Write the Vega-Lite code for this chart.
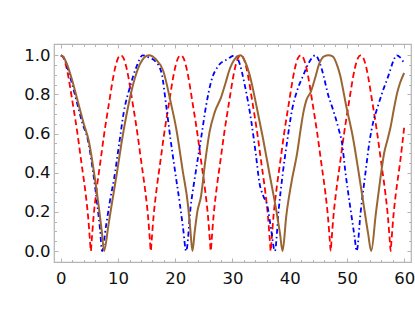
{
  "$schema": "https://vega.github.io/schema/vega-lite/v6.json",
  "width": 357,
  "height": 218,
  "autosize": {"type": "none"},
  "padding": {"left": 54, "top": 44, "right": 4, "bottom": 65},
  "background": "white",
  "config": {
    "view": {"stroke": "#b4b4b4", "strokeWidth": 1.2},
    "axis": {
      "domain": false,
      "grid": false,
      "tickColor": "#b4b4b4",
      "tickWidth": 1,
      "labelFont": "DejaVu Sans",
      "labelFontSize": 16.5,
      "labelColor": "#111111",
      "labelFlush": false,
      "labelOverlap": false,
      "title": null
    }
  },
  "resolve": {"axis": {"x": "independent", "y": "independent"}},
  "layer": [
    {
      "data": {"values": [
        {"t":0,"v":1},{"t":0.5,"v":0.985},{"t":1,"v":0.935},{"t":2.1,"v":0.75},{"t":2.9,"v":0.6},{"t":3.6,"v":0.45},{"t":4.3,"v":0.3},{"t":4.75,"v":0.18},{"t":5.1,"v":0.05},{"t":5.24,"v":0},
        {"t":5.38,"v":0.05},{"t":5.73,"v":0.18},{"t":6.18,"v":0.3},{"t":6.88,"v":0.45},{"t":7.58,"v":0.6},{"t":8.38,"v":0.75},{"t":9.48,"v":0.935},{"t":9.98,"v":0.985},{"t":10.48,"v":1},
        {"t":10.98,"v":0.985},{"t":11.48,"v":0.935},{"t":12.58,"v":0.75},{"t":13.38,"v":0.6},{"t":14.08,"v":0.45},{"t":14.78,"v":0.3},{"t":15.23,"v":0.18},{"t":15.58,"v":0.05},{"t":15.72,"v":0},
        {"t":15.86,"v":0.05},{"t":16.21,"v":0.18},{"t":16.66,"v":0.3},{"t":17.36,"v":0.45},{"t":18.06,"v":0.6},{"t":18.86,"v":0.75},{"t":19.96,"v":0.935},{"t":20.46,"v":0.985},{"t":20.96,"v":1},
        {"t":21.46,"v":0.985},{"t":21.96,"v":0.935},{"t":23.06,"v":0.75},{"t":23.86,"v":0.6},{"t":24.56,"v":0.45},{"t":25.26,"v":0.3},{"t":25.71,"v":0.18},{"t":26.06,"v":0.05},{"t":26.2,"v":0},
        {"t":26.34,"v":0.05},{"t":26.69,"v":0.18},{"t":27.14,"v":0.3},{"t":27.84,"v":0.45},{"t":28.54,"v":0.6},{"t":29.34,"v":0.75},{"t":30.44,"v":0.935},{"t":30.94,"v":0.985},{"t":31.44,"v":1},
        {"t":31.94,"v":0.985},{"t":32.44,"v":0.935},{"t":33.54,"v":0.75},{"t":34.34,"v":0.6},{"t":35.04,"v":0.45},{"t":35.74,"v":0.3},{"t":36.19,"v":0.18},{"t":36.54,"v":0.05},{"t":36.68,"v":0},
        {"t":36.82,"v":0.05},{"t":37.17,"v":0.18},{"t":37.62,"v":0.3},{"t":38.32,"v":0.45},{"t":39.02,"v":0.6},{"t":39.82,"v":0.75},{"t":40.92,"v":0.935},{"t":41.42,"v":0.985},{"t":41.92,"v":1},
        {"t":42.42,"v":0.985},{"t":42.92,"v":0.935},{"t":44.02,"v":0.75},{"t":44.82,"v":0.6},{"t":45.52,"v":0.45},{"t":46.22,"v":0.3},{"t":46.67,"v":0.18},{"t":47.02,"v":0.05},{"t":47.16,"v":0},
        {"t":47.3,"v":0.05},{"t":47.65,"v":0.18},{"t":48.1,"v":0.3},{"t":48.8,"v":0.45},{"t":49.5,"v":0.6},{"t":50.3,"v":0.75},{"t":51.4,"v":0.935},{"t":51.9,"v":0.985},{"t":52.4,"v":1},
        {"t":52.9,"v":0.985},{"t":53.4,"v":0.935},{"t":54.5,"v":0.75},{"t":55.3,"v":0.6},{"t":56.0,"v":0.45},{"t":56.7,"v":0.3},{"t":57.15,"v":0.18},{"t":57.5,"v":0.05},{"t":57.64,"v":0},
        {"t":57.78,"v":0.05},{"t":58.13,"v":0.18},{"t":58.58,"v":0.3},{"t":59.28,"v":0.45},{"t":60,"v":0.63}
      ]},
      "mark": {"type": "line", "color": "#ff0000", "strokeWidth": 1.8, "strokeDash": [6, 3.5], "interpolate": "monotone", "clip": true},
      "encoding": {
        "x": {"field": "t", "type": "quantitative", "scale": {"domain": [-1.2, 61.2], "nice": false, "zero": false},
              "axis": {"orient": "bottom", "values": [0,10,20,30,40,50,60], "tickSize": -4, "labelPadding": 12, "labels": true}},
        "y": {"field": "v", "type": "quantitative", "scale": {"domain": [-0.056, 1.058], "nice": false, "zero": false},
              "axis": {"orient": "left", "values": [0,0.2,0.4,0.6,0.8,1.0], "format": ".1f", "tickSize": -4, "labelPadding": 8, "labels": true}}
      }
    },
    {
      "data": {"values": [
        {"t":0,"v":1},{"t":0.5,"v":0.99},{"t":1,"v":0.95},{"t":2,"v":0.85},{"t":2.8,"v":0.76},{"t":3.8,"v":0.65},{"t":4.7,"v":0.57},{"t":5.6,"v":0.41},{"t":6.35,"v":0.24},{"t":6.85,"v":0.11},{"t":7.2,"v":0},
        {"t":7.9,"v":0.13},{"t":8.6,"v":0.26},{"t":9.3,"v":0.37},{"t":10.2,"v":0.55},{"t":11.0,"v":0.71},{"t":12.1,"v":0.84},{"t":13.2,"v":0.94},{"t":14.3,"v":1.0},{"t":15.3,"v":0.99},
        {"t":16.5,"v":0.97},{"t":17.6,"v":0.91},{"t":18.4,"v":0.745},{"t":19.15,"v":0.575},{"t":20.0,"v":0.4},{"t":20.8,"v":0.24},{"t":21.35,"v":0.12},{"t":21.9,"v":0},
        {"t":22.7,"v":0.23},{"t":23.55,"v":0.4},{"t":24.5,"v":0.575},{"t":25.4,"v":0.745},{"t":26.3,"v":0.87},{"t":27.5,"v":0.945},{"t":29.1,"v":0.98},{"t":30.4,"v":1.0},
        {"t":31.1,"v":0.97},{"t":32.2,"v":0.84},{"t":33.3,"v":0.66},{"t":34.1,"v":0.49},{"t":34.7,"v":0.35},{"t":35.4,"v":0.28},{"t":36.1,"v":0.23},{"t":36.8,"v":0.1},{"t":37.4,"v":0},
        {"t":38.1,"v":0.22},{"t":38.8,"v":0.4},{"t":39.6,"v":0.57},{"t":40.4,"v":0.72},{"t":41.3,"v":0.82},{"t":42.4,"v":0.9},{"t":43.3,"v":0.96},{"t":44.5,"v":1.0},
        {"t":45.0,"v":0.98},{"t":45.6,"v":0.93},{"t":46.8,"v":0.79},{"t":47.6,"v":0.72},{"t":48.5,"v":0.63},{"t":49.15,"v":0.55},{"t":49.75,"v":0.4},{"t":50.55,"v":0.23},{"t":51.35,"v":0.07},{"t":51.7,"v":0},
        {"t":52.4,"v":0.2},{"t":53.2,"v":0.39},{"t":53.9,"v":0.55},{"t":54.6,"v":0.66},{"t":55.3,"v":0.73},{"t":56.3,"v":0.82},{"t":57.3,"v":0.9},{"t":58.1,"v":0.97},{"t":58.7,"v":1.0},{"t":59.3,"v":0.99},{"t":60,"v":0.96}
      ]},
      "mark": {"type": "line", "color": "#0000ff", "strokeWidth": 1.8, "strokeDash": [5, 3, 1.5, 3], "interpolate": "monotone", "clip": true},
      "encoding": {
        "x": {"field": "t", "type": "quantitative", "scale": {"domain": [-1.2, 61.2], "nice": false, "zero": false},
              "axis": {"orient": "bottom", "values": [2,4,6,8,12,14,16,18,22,24,26,28,32,34,36,38,42,44,46,48,52,54,56,58], "tickSize": -2.5, "labels": false}},
        "y": {"field": "v", "type": "quantitative", "scale": {"domain": [-0.056, 1.058], "nice": false, "zero": false},
              "axis": {"orient": "left", "values": [0.05,0.1,0.15,0.25,0.3,0.35,0.45,0.5,0.55,0.65,0.7,0.75,0.85,0.9,0.95], "tickSize": -2.5, "labels": false}}
      }
    },
    {
      "data": {"values": [
        {"t":0,"v":1},{"t":0.5,"v":0.99},{"t":1,"v":0.96},{"t":2,"v":0.87},{"t":3,"v":0.76},{"t":4,"v":0.65},{"t":4.9,"v":0.56},{"t":5.8,"v":0.4},{"t":6.65,"v":0.22},{"t":7.15,"v":0.1},{"t":7.55,"v":0},
        {"t":8.3,"v":0.13},{"t":8.9,"v":0.24},{"t":9.8,"v":0.4},{"t":10.7,"v":0.57},{"t":11.7,"v":0.73},{"t":12.9,"v":0.88},{"t":13.9,"v":0.96},{"t":15.4,"v":1.0},
        {"t":16.6,"v":0.98},{"t":17.9,"v":0.92},{"t":19.2,"v":0.76},{"t":20.2,"v":0.62},{"t":21.3,"v":0.41},{"t":22.2,"v":0.24},{"t":22.6,"v":0.12},{"t":23.0,"v":0},
        {"t":23.4,"v":0.1},{"t":23.85,"v":0.2},{"t":24.5,"v":0.28},{"t":25.2,"v":0.45},{"t":26.0,"v":0.61},{"t":26.9,"v":0.71},{"t":28.0,"v":0.785},{"t":28.8,"v":0.86},{"t":29.4,"v":0.92},{"t":30.5,"v":0.985},{"t":31.4,"v":1.0},
        {"t":32.0,"v":0.98},{"t":33.0,"v":0.9},{"t":34.2,"v":0.74},{"t":35.3,"v":0.58},{"t":36.5,"v":0.39},{"t":37.7,"v":0.2},{"t":38.3,"v":0.09},{"t":38.75,"v":0},
        {"t":39.4,"v":0.18},{"t":40.3,"v":0.35},{"t":41.3,"v":0.5},{"t":41.9,"v":0.62},{"t":42.4,"v":0.71},{"t":42.9,"v":0.77},{"t":43.7,"v":0.815},{"t":44.4,"v":0.88},{"t":45.2,"v":0.96},{"t":46.0,"v":0.995},{"t":46.8,"v":1.0},{"t":47.5,"v":0.995},
        {"t":48.4,"v":0.94},{"t":48.8,"v":0.9},{"t":49.85,"v":0.745},{"t":51.05,"v":0.58},{"t":51.9,"v":0.43},{"t":52.8,"v":0.26},{"t":53.7,"v":0.09},{"t":54.25,"v":0},
        {"t":55.05,"v":0.19},{"t":55.8,"v":0.36},{"t":56.5,"v":0.5},{"t":57.1,"v":0.57},{"t":57.6,"v":0.63},{"t":58.3,"v":0.74},{"t":58.8,"v":0.81},{"t":59.3,"v":0.86},{"t":60,"v":0.91}
      ]},
      "mark": {"type": "line", "color": "#996633", "strokeWidth": 2, "interpolate": "monotone", "clip": true},
      "encoding": {
        "x": {"field": "t", "type": "quantitative", "scale": {"domain": [-1.2, 61.2], "nice": false, "zero": false},
              "axis": {"orient": "top", "values": [0,10,20,30,40,50,60], "tickSize": -4, "labels": false}},
        "y": {"field": "v", "type": "quantitative", "scale": {"domain": [-0.056, 1.058], "nice": false, "zero": false},
              "axis": {"orient": "right", "values": [0,0.2,0.4,0.6,0.8,1.0], "tickSize": -4, "labels": false}}
      }
    },
    {
      "data": {"values": []},
      "mark": {"type": "point", "opacity": 0},
      "encoding": {
        "x": {"field": "t", "type": "quantitative", "scale": {"domain": [-1.2, 61.2], "nice": false, "zero": false},
              "axis": {"orient": "top", "values": [2,4,6,8,12,14,16,18,22,24,26,28,32,34,36,38,42,44,46,48,52,54,56,58], "tickSize": -2.5, "labels": false}},
        "y": {"field": "v", "type": "quantitative", "scale": {"domain": [-0.056, 1.058], "nice": false, "zero": false},
              "axis": {"orient": "right", "values": [0.05,0.1,0.15,0.25,0.3,0.35,0.45,0.5,0.55,0.65,0.7,0.75,0.85,0.9,0.95], "tickSize": -2.5, "labels": false}}
      }
    }
  ]
}
